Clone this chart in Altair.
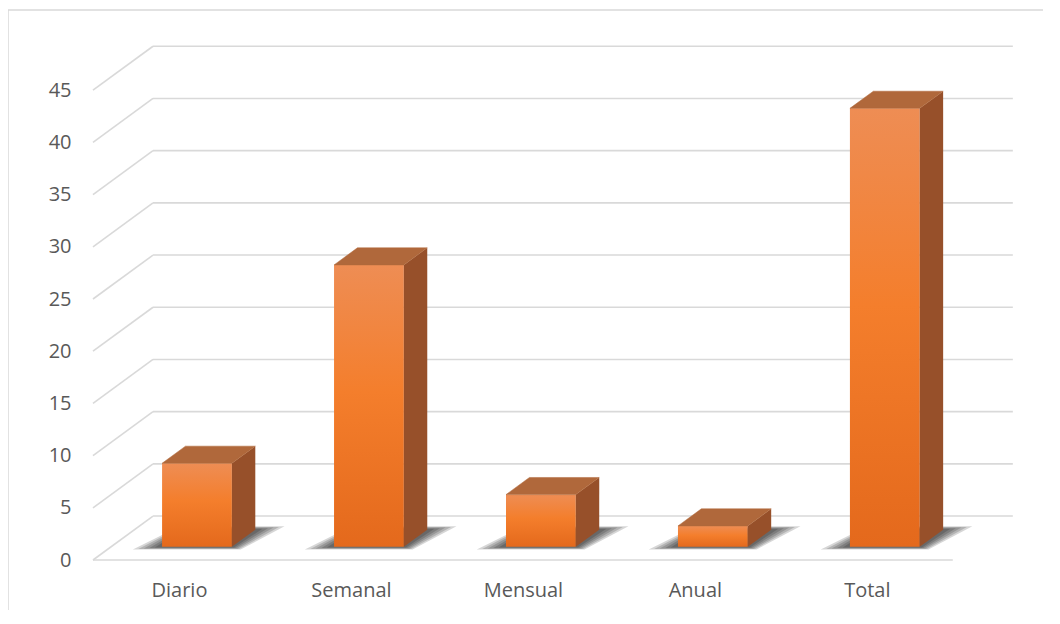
import altair as alt
import pandas as pd

# ---- data ----
categories = ["Diario", "Semanal", "Mensual", "Anual", "Total"]
values = [8, 27, 5, 2, 42]
tick_values = [0, 5, 10, 15, 20, 25, 30, 35, 40, 45]

# ---- pseudo-3D geometry (data units: x = category slots, y = value units) ----
DEPTH_X = 0.349   # full floor depth, horizontal shift
DEPTH_Y = 4.21    # full floor depth, vertical shift
F_FRONT = 0.30    # depth fraction of the bars' front plane
F_BACK = 0.69     # depth fraction of the bars' back plane
HALF_W = 0.203    # half bar width

fx, fy = F_FRONT * DEPTH_X, F_FRONT * DEPTH_Y
bdx, bdy = (F_BACK - F_FRONT) * DEPTH_X, (F_BACK - F_FRONT) * DEPTH_Y
n = len(categories)

front, side, top, shadow = [], [], [], []
for i, (c, v) in enumerate(zip(categories, values)):
    xl, xr = i + fx - HALF_W, i + fx + HALF_W
    front.append(dict(cat=c, x=xl, x2=xr, y=fy, y2=fy + v))
    side.append(dict(cat=c, x=xr, y=fy + v, y2=fy))
    side.append(dict(cat=c, x=xr + bdx, y=fy + v + bdy, y2=fy + bdy))
    for k, (px, py) in enumerate([(xl, fy + v), (xr, fy + v), (xr + bdx, fy + v + bdy),
                                  (xl + bdx, fy + v + bdy), (xl, fy + v)]):
        top.append(dict(cat=c, k=k, x=px, y=py))
    for j in range(5):
        sid = f"{c}-{j}"
        e = 0.17 - j * 0.032
        d = 0.32 - j * 0.06
        shadow.append(dict(sid=sid, y=fy - d * 0.8, x=xl - e, x2=xr + e * 0.3))
        shadow.append(dict(sid=sid, y=fy + bdy + d, x=xl + bdx - e * 0.2, x2=xr + bdx + e))

grid = []
for t in tick_values:
    grid.append(dict(x=-0.5 + DEPTH_X, x2=n - 0.5 + DEPTH_X, y=t + DEPTH_Y, y2=t + DEPTH_Y))
    grid.append(dict(x=-0.5, x2=-0.5 + DEPTH_X, y=t, y2=t + DEPTH_Y))
grid.append(dict(x=-0.5, x2=n - 0.5, y=0, y2=0))

df_front, df_side, df_top = pd.DataFrame(front), pd.DataFrame(side), pd.DataFrame(top)
df_shadow, df_grid = pd.DataFrame(shadow), pd.DataFrame(grid)

FONT = "Open Sans"
label_expr = "[" + ",".join(f"'{c}'" for c in categories) + "][datum.value]"

x_scale = alt.Scale(domain=[-0.5, n - 0.5 + DEPTH_X + 0.001], nice=False, zero=False)
y_scale = alt.Scale(domain=[0, 50], nice=False, zero=False)
x_axis = alt.Axis(values=list(range(n)), labelExpr=label_expr, title=None, domain=False,
                  ticks=False, grid=False, labelPadding=20, labelFontSize=20,
                  labelColor="#595959", labelFont=FONT)
y_axis = alt.Axis(values=tick_values, title=None, domain=False, ticks=False, grid=False,
                  labelPadding=22, labelFontSize=20, labelColor="#595959", labelFont=FONT)


def X(f="x"):
    return alt.X(f"{f}:Q", scale=x_scale, axis=x_axis)


def Y(f="y"):
    return alt.Y(f"{f}:Q", scale=y_scale, axis=y_axis)


grid_layer = alt.Chart(df_grid).mark_rule(color="#D9D9D9", strokeWidth=1.6).encode(
    x=X(), x2="x2:Q", y=Y(), y2="y2:Q")

shadow_layer = alt.Chart(df_shadow).mark_area(
    orient="horizontal", color="#000000", opacity=0.16).encode(
    y=Y(), x=X(), x2="x2:Q", detail="sid:N")

front_grad = alt.LinearGradient(gradient="linear", x1=0, y1=0, x2=0, y2=1, stops=[
    alt.GradientStop(color="#EE8D54", offset=0),
    alt.GradientStop(color="#F47E2C", offset=0.45),
    alt.GradientStop(color="#E4691C", offset=1)])

front_layer = alt.Chart(df_front).mark_rect(fill=front_grad).encode(
    x=X(), x2="x2:Q", y=Y(), y2="y2:Q")

side_layer = alt.Chart(df_side).mark_area(color="#97502A").encode(
    x=X(), y=Y(), y2="y2:Q", detail="cat:N")

top_layer = alt.Chart(df_top).mark_line(fill="#B0683B", stroke="#B0683B", strokeWidth=0.5).encode(
    x=X(), y=Y(), detail="cat:N", order="k:Q")

frame_left = alt.Chart(pd.DataFrame({"a": [0]})).mark_rule(color="#D9D9D9", strokeWidth=1.5).encode(
    x=alt.value(-85), y=alt.value(-28), y2=alt.value(600))
frame_top = alt.Chart(pd.DataFrame({"a": [0]})).mark_rule(color="#D9D9D9", strokeWidth=1.5).encode(
    x=alt.value(-85), x2=alt.value(960), y=alt.value(-28))

chart = alt.layer(frame_left, frame_top, grid_layer, shadow_layer, front_layer, side_layer, top_layer).properties(
    width=920, height=522,
    background="white",
    autosize=alt.AutoSizeParams(type="none"),
    padding={"left": 85, "top": 30, "right": 30, "bottom": 50},
).configure_view(strokeWidth=0, stroke=None)

chart.save("out.html", embed_options={"renderer": "svg", "actions": False})
